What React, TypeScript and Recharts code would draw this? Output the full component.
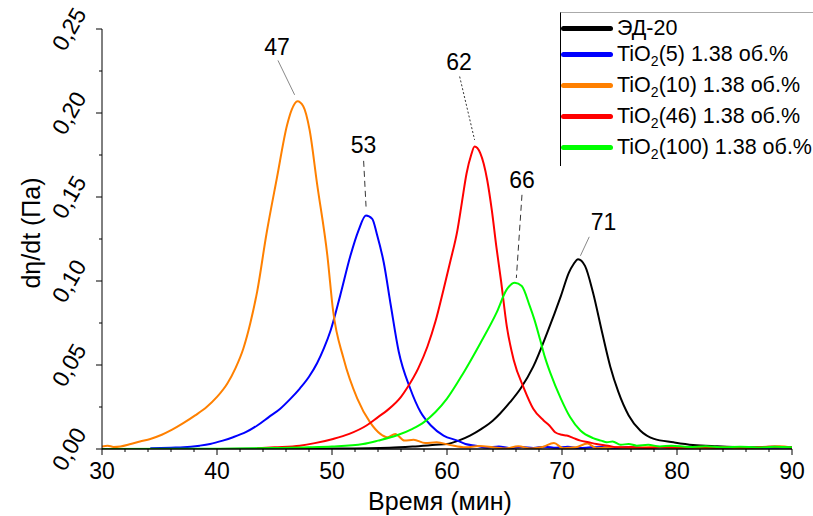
import React from 'react';
import {
  LineChart,
  Line,
  XAxis,
  YAxis,
  Legend,
  Label,
  ReferenceLine,
  ReferenceDot,
} from 'recharts';

// ЭД-20
const edTime = [30, 40, 50, 55, 57, 59, 60, 61, 62, 63, 64, 64.6, 65.5, 66.4, 67.5, 68.7, 69.9, 70.6, 71.0, 71.4, 72.0, 72.7, 73.5, 74.2, 74.9, 75.8, 76.8, 78.0, 79.7, 81.4, 83.5, 85, 87, 88.5, 90];
const edValue = [0, 0, 0.0003, 0.0008, 0.0015, 0.0025, 0.003, 0.005, 0.008, 0.012, 0.017, 0.021, 0.028, 0.036, 0.049, 0.069, 0.091, 0.105, 0.11, 0.113, 0.109, 0.093, 0.069, 0.049, 0.034, 0.02, 0.011, 0.006, 0.004, 0.0024, 0.0016, 0.0012, 0.001, 0.0013, 0.0008];

// TiO2(5)
const tio5Time = [34.2, 36, 37.1, 38.5, 39.4, 40.5, 41.4, 42.5, 43.5, 44.5, 45.5, 46.4, 47.2, 48, 48.7, 49.3, 49.9, 50.7, 51.6, 52.3, 52.95, 53.5, 53.9, 54.5, 55.1, 55.8, 56.8, 57.7, 58.6, 59.7, 60.9, 61.6, 62.5, 63.5, 64.5, 65.5, 66.5, 67.5, 68.5, 69.5, 70.5, 71.5, 72.5, 73.5, 74.5, 75.5, 77, 78.5, 80, 82, 84, 86, 88, 90];
const tio5Value = [0.0004, 0.0008, 0.001, 0.002, 0.003, 0.005, 0.007, 0.01, 0.014, 0.019, 0.024, 0.03, 0.036, 0.043, 0.051, 0.06, 0.071, 0.091, 0.115, 0.13, 0.139, 0.137, 0.128, 0.111, 0.086, 0.058, 0.036, 0.022, 0.014, 0.008, 0.005, 0.003, 0.002, 0.0008, 0.0015, 0.0005, 0.0012, 0.0006, 0.0014, 0.0007, 0.0013, 0.0006, 0.001, 0.0012, 0.0005, 0.0011, 0.0006, 0.0012, 0.0007, 0.001, 0.0006, 0.0011, 0.0007, 0.001];

// TiO2(10)
const tio10Time = [30, 30.5, 31, 31.6, 32.5, 33.3, 34.2, 35.2, 36.1, 37.1, 38.1, 39.1, 40, 40.9, 41.6, 42.3, 42.9, 43.5, 44.3, 45.2, 46.1, 46.5, 47, 47.5, 48.05, 48.7, 49.6, 50.1, 51, 52.2, 53.3, 54.2, 54.8, 55.5, 56.3, 57.1, 58.1, 59.1, 60.3, 61.6, 62.8, 64, 65, 66.2, 67.3, 68.3, 69.3, 70.1, 71.2, 72.2, 73, 74.6, 76.2, 77.2, 78.3, 79.5, 81.1, 82.5, 84, 85.5, 87, 88.9, 90];
const tio10Value = [0.0015, 0.002, 0.0012, 0.0015, 0.003, 0.0045, 0.006, 0.0085, 0.0115, 0.0155, 0.02, 0.025, 0.031, 0.039, 0.048, 0.06, 0.075, 0.094, 0.128, 0.161, 0.193, 0.202, 0.207, 0.204, 0.19, 0.158, 0.115, 0.082, 0.054, 0.03, 0.016, 0.009, 0.007, 0.009, 0.005, 0.0055, 0.0035, 0.004, 0.0023, 0.001, 0.0018, 0.001, 0.0003, 0.0016, 0.0003, 0.0012, 0.0035, 0.0005, 0.001, 0.0032, 0.0005, 0.0012, 0.0004, 0.001, 0.0014, 0.0005, 0.0008, 0.0004, 0.001, 0.0005, 0.0009, 0.0016, 0.0008];

// TiO2(46)
const tio46Time = [43.5, 45, 47.2, 48.5, 50.1, 51.5, 53, 54, 54.8, 56, 56.5, 57.5, 58.3, 59, 59.7, 60.3, 60.9, 61.3, 61.7, 62.1, 62.4, 62.9, 63.5, 63.9, 64.3, 64.7, 65.2, 65.8, 66.7, 67.5, 68.4, 68.9, 69.4, 70, 70.4, 71, 71.6, 72.3, 73, 74, 74.8, 76, 77.5, 79, 80.5, 82, 83.5, 85, 86.5, 88, 90];
const tio46Value = [0.0004, 0.001, 0.002, 0.0035, 0.006, 0.009, 0.014, 0.019, 0.023, 0.031, 0.036, 0.048, 0.061, 0.076, 0.095, 0.112, 0.13, 0.147, 0.164, 0.175, 0.18, 0.176, 0.16, 0.142, 0.12, 0.1, 0.073, 0.053, 0.036, 0.024, 0.017, 0.014, 0.01, 0.0085, 0.008, 0.0065, 0.005, 0.004, 0.003, 0.002, 0.001, 0.0012, 0.0006, 0.0012, 0.0008, 0.0014, 0.0007, 0.0012, 0.0008, 0.0013, 0.001];

// TiO2(100)
const tio100Time = [30, 40, 45, 48, 50, 52.7, 54, 55.6, 57, 58, 59, 60, 61.4, 62.9, 64.3, 65.2, 65.9, 66.5, 67.2, 67.6, 68.1, 68.5, 69, 69.9, 70.7, 71.6, 72.7, 73.4, 73.9, 74.4, 75.1, 75.8, 76.5, 77.5, 78.5, 79.5, 81, 82.5, 84, 85.5, 87, 88.5, 90];
const tio100Value = [0, 0.0002, 0.0006, 0.001, 0.0015, 0.003, 0.005, 0.008, 0.012, 0.016, 0.022, 0.03, 0.045, 0.063, 0.081, 0.095, 0.099, 0.097, 0.085, 0.077, 0.065, 0.055, 0.045, 0.03, 0.019, 0.011, 0.0065, 0.005, 0.004, 0.0045, 0.0025, 0.003, 0.002, 0.0025, 0.0015, 0.002, 0.0012, 0.0016, 0.001, 0.0014, 0.0009, 0.0013, 0.001];

const xTicks = [30, 32, 34, 36, 38, 40, 42, 44, 46, 48, 50, 52, 54, 56, 58, 60, 62, 64, 66, 68, 70, 72, 74, 76, 78, 80, 82, 84, 86, 88, 90];
const yTicks = [0, 0.025, 0.05, 0.075, 0.1, 0.125, 0.15, 0.175, 0.2, 0.225, 0.25];

// peak labels: text position and leader line ends (data units)
const peakLabels = ['47', '53', '62', '66', '71'];
const peakTextAt = [[45.22, 0.2396], [52.75, 0.1811], [61.04, 0.2307], [66.52, 0.1602], [73.62, 0.1354]];
const peakLineFrom = [[45.3, 0.2313], [52.75, 0.1715], [61.1, 0.2217], [66.52, 0.1513], [72.37, 0.1263]];
const peakLineTo = [[46.75, 0.2108], [52.96, 0.1443], [62.4, 0.184], [66.03, 0.1018], [71.6, 0.115]];
const peakDash = ['', '6 4', '2 2', '6 4', ''];

const toPoints = (ts: number[], vs: number[]) => ts.map((t, i) => ({ t, v: vs[i] }));

const series = [
  { key: 'ed', name: 'ЭД-20', sub: '', color: '#000000', data: toPoints(edTime, edValue) },
  { key: 't5', name: 'TiO', sub: '(5) 1.38 об.%', color: '#0000ff', data: toPoints(tio5Time, tio5Value) },
  { key: 't10', name: 'TiO', sub: '(10) 1.38 об.%', color: '#ff8000', data: toPoints(tio10Time, tio10Value) },
  { key: 't46', name: 'TiO', sub: '(46) 1.38 об.%', color: '#ff0000', data: toPoints(tio46Time, tio46Value) },
  { key: 't100', name: 'TiO', sub: '(100) 1.38 об.%', color: '#00ff00', data: toPoints(tio100Time, tio100Value) },
];

const FONT = '"Liberation Sans", Arial, sans-serif';
const legendRowCenters = [27, 53, 84, 115, 146];

const XTick = (props: any) => {
  const { x, y, payload } = props;
  const major = payload.value % 10 === 0;
  return (
    <g>
      <line x1={x} x2={x} y1={y} y2={y + (major ? 6 : 3)} stroke="#000" strokeWidth={1} />
      {major && (
        <text x={x} y={y + 30} textAnchor="middle" fontSize={23} fill="#000" fontFamily={FONT}>
          {payload.value}
        </text>
      )}
    </g>
  );
};

const YTick = (props: any) => {
  const { x, y, payload } = props;
  const major = Math.round(payload.value * 1000) % 50 === 0;
  const cx = x - 33;
  return (
    <g>
      <line x1={x} x2={x - (major ? 6 : 3)} y1={y} y2={y} stroke="#000" strokeWidth={1} />
      {major && (
        <text
          x={cx}
          y={y}
          textAnchor="middle"
          dominantBaseline="central"
          fontSize={23}
          fill="#000"
          fontFamily={FONT}
          transform={`rotate(-60 ${cx} ${y})`}
        >
          {payload.value.toFixed(2).replace('.', ',')}
        </text>
      )}
    </g>
  );
};

const renderLegend = () => (
  <div
    style={{
      position: 'relative',
      width: 253,
      height: 153,
      borderLeft: '1px solid #000',
      borderTop: '1px solid #aaa',
      fontFamily: FONT,
      fontSize: 21.5,
      color: '#000',
    }}
  >
    {series.map((s, i) => (
      <div
        key={s.key}
        style={{
          position: 'absolute',
          left: 0,
          top: legendRowCenters[i] - 12 - 15,
          height: 30,
          display: 'flex',
          alignItems: 'center',
          whiteSpace: 'nowrap',
        }}
      >
        <span style={{ display: 'inline-block', width: 52, height: 5, borderRadius: 3, background: s.color, marginRight: 4 }} />
        <span>
          {s.name}
          {s.sub && (
            <>
              <span style={{ fontSize: 14, position: 'relative', top: 5 }}>2</span>
              {s.sub}
            </>
          )}
        </span>
      </div>
    ))}
  </div>
);

export default function App() {
  return (
    <div style={{ position: 'absolute', left: 0, top: 0, width: 813, height: 516, background: '#fff' }}>
      <LineChart
        width={813}
        height={516}
        margin={{ top: 29, right: 21, bottom: 17, left: 42 }}
        style={{ fontFamily: FONT }}
      >
        <XAxis
          dataKey="t"
          type="number"
          domain={[30, 90]}
          ticks={xTicks}
          interval={0}
          tickSize={0}
          tickMargin={0}
          tickLine={false}
          tick={<XTick />}
          height={50}
          axisLine={{ stroke: '#000', strokeWidth: 1.5 }}
          allowDataOverflow
        >
          <Label
            content={(p: any) => {
              const vb = p.viewBox;
              return (
                <text x={vb.x + vb.width / 2 - 7} y={vb.y + 61} textAnchor="middle" fontSize={25} fill="#000" fontFamily={FONT}>
                  Время (мин)
                </text>
              );
            }}
          />
        </XAxis>
        <YAxis
          type="number"
          domain={[0, 0.25]}
          ticks={yTicks}
          interval={0}
          tickSize={0}
          tickMargin={0}
          tickLine={false}
          tick={<YTick />}
          width={60}
          axisLine={{ stroke: '#000', strokeWidth: 1 }}
          allowDataOverflow
        >
          <Label
            content={(p: any) => {
              const vb = p.viewBox;
              const lx = vb.x - 11;
              const ly = vb.y + vb.height / 2 - 6;
              return (
                <text
                  x={lx}
                  y={ly}
                  textAnchor="middle"
                  dominantBaseline="central"
                  fontSize={25}
                  fill="#000"
                  fontFamily={FONT}
                  transform={`rotate(-90 ${lx} ${ly})`}
                >
                  dη/dt (Па)
                </text>
              );
            }}
          />
        </YAxis>
        <Legend
          layout="vertical"
          align="center"
          verticalAlign="middle"
          content={renderLegend}
          wrapperStyle={{ position: 'absolute', left: 560, top: 12, width: 253, height: 153 }}
        />
        {series.map((s) => (
          <Line
            key={s.key}
            data={s.data}
            dataKey="v"
            name={s.key}
            type="monotone"
            stroke={s.color}
            strokeWidth={2}
            dot={false}
            activeDot={false}
            isAnimationActive={false}
          />
        ))}
        {peakLabels.map((lab, i) => (
          <ReferenceLine
            key={`pl-${lab}`}
            segment={[
              { x: peakLineFrom[i][0], y: peakLineFrom[i][1] },
              { x: peakLineTo[i][0], y: peakLineTo[i][1] },
            ]}
            stroke={peakDash[i] ? '#000' : '#555'}
            strokeWidth={peakDash[i] ? 0.8 : 0.7}
            strokeDasharray={peakDash[i] || undefined}
            ifOverflow="visible"
          />
        ))}
        {peakLabels.map((lab, i) => (
          <ReferenceDot
            key={`pd-${lab}`}
            x={peakTextAt[i][0]}
            y={peakTextAt[i][1]}
            r={1}
            fill="none"
            stroke="none"
            ifOverflow="visible"
            label={{ value: lab, position: 'center', fontSize: 23, fill: '#000', fontFamily: FONT }}
          />
        ))}
      </LineChart>
    </div>
  );
}
